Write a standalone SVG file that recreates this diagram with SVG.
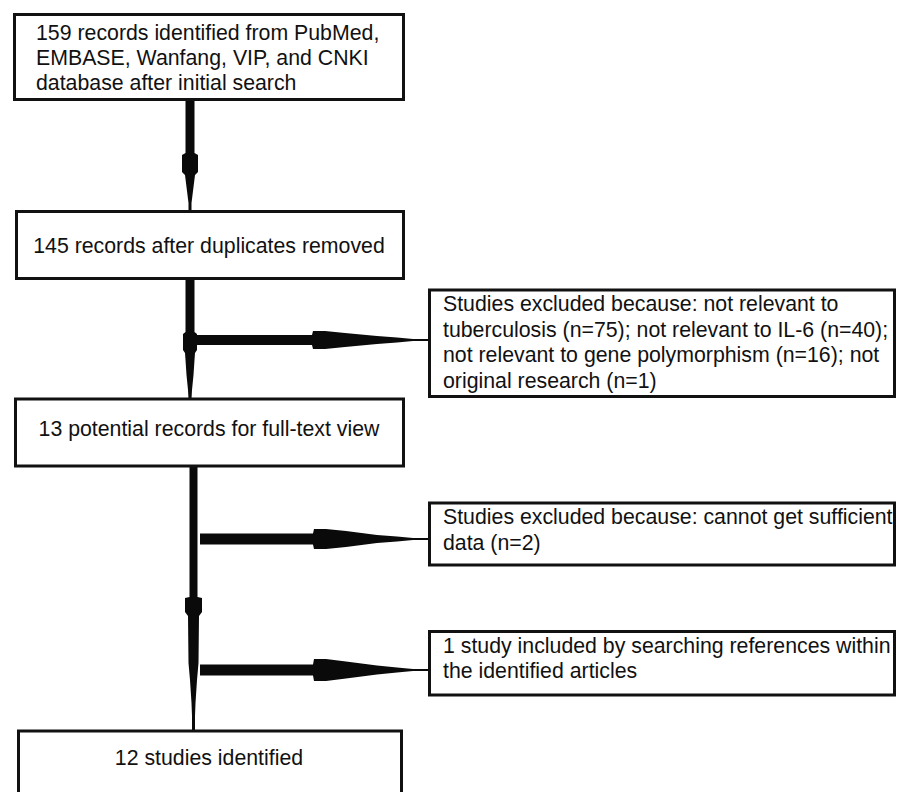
<svg xmlns="http://www.w3.org/2000/svg" width="898" height="792" viewBox="0 0 898 792">
<style>
.box{fill:#fff;stroke:#111;stroke-width:3}
.t{font-family:"Liberation Sans",Arial,sans-serif;font-size:21.3px;fill:#111}
.c{text-anchor:middle}
.conn{fill:#0a0a0a;stroke:none}
</style>
<rect width="898" height="792" fill="#fff"/>
<g id="connectors">
<polygon class="conn" points="185.5,100 185.5,153 182,155 182,172 185,175 186.5,187 188.5,203 188.5,212 191.5,212 191.5,203 193.5,187 195,175 198,172 198,155 194.5,153 194.5,100"/>
<polygon class="conn" points="185.5,278 185.5,332 183,334 183,350 185,353 185.5,360 186.5,375 188,390 188.5,399 191.5,399 192,390 193.5,375 194.5,360 195,353 197,350 197,334 194.5,332 194.5,278"/>
<polygon class="conn" points="183,335 312,335 313,331 325,331 345,333 377,336 397,337.5 413,339 428,339 428,341 413,341 397,342.5 377,344 345,347 325,349 313,349 312,345 183,345"/>
<polygon class="conn" points="189.5,466 189.5,597 185,598 185,612 188,616 188.5,663 190,680 191.5,703 192,716 192,731 195,731 195,716 195.5,703 197,680 198.5,663 199,616 202,612 202,598 197.5,597 197.5,466"/>
<polygon class="conn" points="200,533.5 313,533.5 314,529 326,529 346,531 377,535 397,536.5 413,538 428,538 428,540 413,540 397,541.5 377,543 346,547 326,549 314,549 313,544.5 200,544.5"/>
<polygon class="conn" points="200,664.5 313,664.5 314,659 326,659 346,661.5 377,665.5 397,667.5 413,669 428,669 428,671 413,671 397,672.5 377,674.5 346,678.5 326,681 314,681 313,675.5 200,675.5"/>
</g>
<g id="n1">
<rect class="box" x="14.5" y="14.5" width="389" height="85"/>
<text class="t" x="36" y="39.5">159 records identified from PubMed,</text>
<text class="t" x="36" y="64.8">EMBASE, Wanfang, VIP, and CNKI</text>
<text class="t" x="36" y="90">database after initial search</text>
</g>
<g id="n2">
<rect class="box" x="16.5" y="211.5" width="387" height="67"/>
<text class="t c" x="209" y="252.5">145 records after duplicates removed</text>
</g>
<g id="n3">
<rect class="box" x="429.5" y="290" width="465" height="106.5"/>
<text class="t" x="443" y="311">Studies excluded because: not relevant to</text>
<text class="t" x="443" y="336.7">tuberculosis (n=75); not relevant to IL-6 (n=40);</text>
<text class="t" x="443" y="362.4">not relevant to gene polymorphism (n=16); not</text>
<text class="t" x="443" y="388">original research (n=1)</text>
</g>
<g id="n4">
<rect class="box" x="15.5" y="399" width="388" height="67"/>
<text class="t c" x="209" y="435.5">13 potential records for full-text view</text>
</g>
<g id="n5">
<rect class="box" x="429.5" y="503" width="465" height="62"/>
<text class="t" x="443" y="524">Studies excluded because: cannot get sufficient</text>
<text class="t" x="443" y="549.5">data (n=2)</text>
</g>
<g id="n6">
<rect class="box" x="429.5" y="631.5" width="465" height="63.5"/>
<text class="t" x="443" y="652.5">1 study included by searching references within</text>
<text class="t" x="443" y="677.5">the identified articles</text>
</g>
<g id="n7">
<rect class="box" x="18.5" y="731" width="383" height="80"/>
<text class="t c" x="209" y="765">12 studies identified</text>
</g>
</svg>
